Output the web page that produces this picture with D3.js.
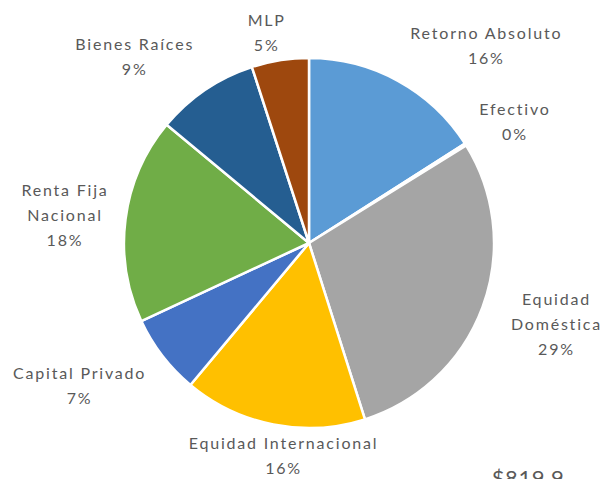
<!DOCTYPE html>
<html>
<head>
<meta charset="utf-8">
<script src="https://cdn.jsdelivr.net/npm/d3@7"></script>
<style>
  body { margin: 0; background: #fff; }
  svg text { font-family: Lato, "Open Sans", sans-serif; fill: #595959; }
</style>
</head>
<body>
<div id="chart"></div>
<script>
// slice names (each line of the label), values in percent and colours
var categories = [
    ["Retorno Absoluto"],
    ["Efectivo"],
    ["Equidad", "Doméstica"],
    ["Equidad Internacional"],
    ["Capital Privado"],
    ["Renta Fija", "Nacional"],
    ["Bienes Raíces"],
    ["MLP"]
];
var values = [16, 0.2, 29, 16, 7, 18, 9, 5];
var colors = ["#5B9BD5", "#ED7D31", "#A5A5A5", "#FFC000", "#4472C4", "#70AD47", "#255E91", "#9E480E"];
var totalLabel = "$819.9";

// small hand nudges so labels sit where excel put them
var labelNudge = [[8, -2], [6, 7], [20, -23], [12, -2], [-9, 0], [-8, 2], [-6, 0], [-12, 7]];

var width = 605, height = 479;
var cx = 309, cy = 243, radius = 185;

var svg = d3.select("#chart")
    .append("svg")
    .attr("width", width)
    .attr("height", height);

var total = d3.sum(values);

var pie = d3.pie()
    .sort(null)
    .value(function (d) { return d; });

var arc = d3.arc()
    .innerRadius(0)
    .outerRadius(radius);

var arcs = pie(values);

var g = svg.append("g")
    .attr("transform", "translate(" + cx + "," + cy + ")");

g.selectAll("path")
    .data(arcs)
    .enter()
    .append("path")
    .attr("d", arc)
    .attr("fill", function (d, i) { return colors[i]; })
    .attr("stroke", "#fff")
    .attr("stroke-width", 2.5)
    .attr("stroke-linejoin", "round");

// labels outside end
var lineH = 25, gap = 9;
arcs.forEach(function (d, i) {
    var a = (d.startAngle + d.endAngle) / 2;
    var px = Math.sin(a) * (radius + gap),
        py = -Math.cos(a) * (radius + gap);
    var lines = categories[i].concat([Math.round(values[i] / total * 100) + "%"]);

    var t = g.append("text")
        .style("font-size", "16px")
        .style("letter-spacing", "1.8px")
        .attr("text-anchor", "middle");
    lines.forEach(function (l, k) {
        t.append("tspan")
            .attr("x", 0)
            .attr("y", k * lineH)
            .text(l);
    });
    var bb = t.node().getBBox();
    var blockH = lines.length * lineH;
    var s = Math.sin(a), c = Math.cos(a);
    var x0, top;
    if (s > 0.3) x0 = px + bb.width / 2;
    else if (s < -0.3) x0 = px - bb.width / 2;
    else x0 = px;
    if (c > 0.3) top = py - blockH;
    else if (c < -0.3) top = py;
    else top = py - blockH / 2 - c * blockH / 2;
    x0 += labelNudge[i][0];
    var y0 = top + lineH * 0.72 + labelNudge[i][1];
    t.attr("transform", "translate(" + x0 + "," + y0 + ")");
});

svg.append("text")
    .attr("x", 528)
    .attr("y", 486)
    .attr("text-anchor", "middle")
    .style("font-size", "22px")
    .style("letter-spacing", "0.6px")
    .text(totalLabel);
</script>
</body>
</html>
